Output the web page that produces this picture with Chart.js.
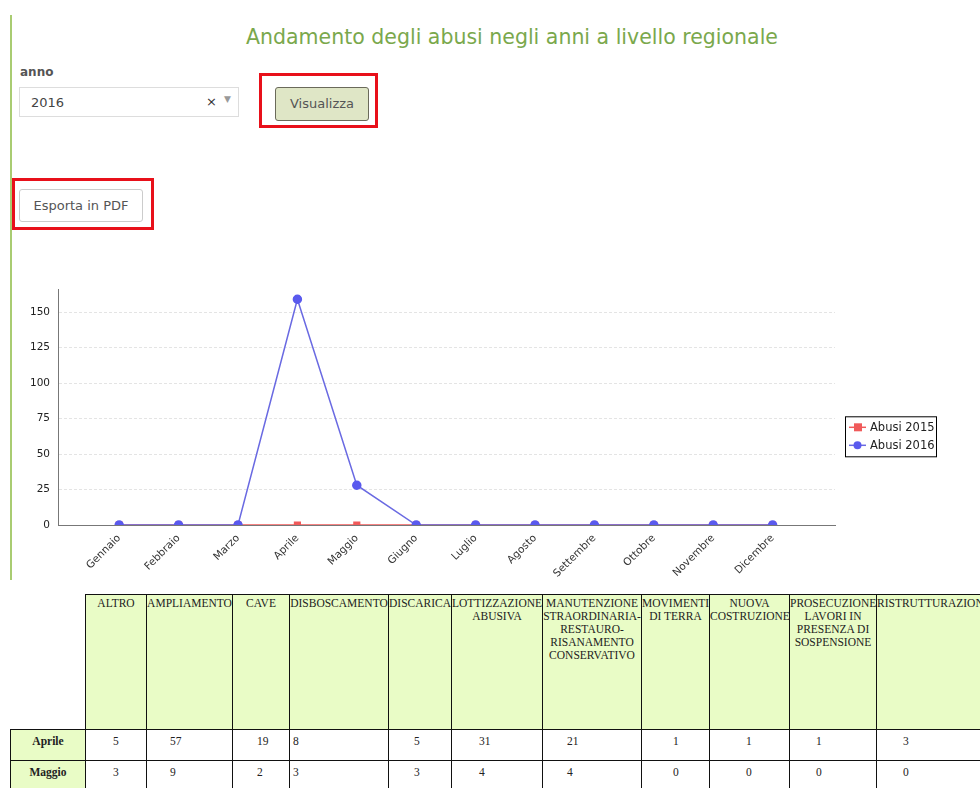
<!DOCTYPE html>
<html>
<head>
<meta charset="utf-8">
<script src="https://cdn.jsdelivr.net/npm/chart.js@4.4.1/dist/chart.umd.min.js"></script>
<style>
  html, body { margin:0; padding:0; background:#fff; width:980px; height:788px; overflow:hidden; }
  body { position:relative; font-family:"DejaVu Sans", Verdana, sans-serif; }
  .greenLine { position:absolute; left:10px; top:15px; width:2px; height:565px; background:#a9cc72; }
  .title { position:absolute; left:0; width:1024px; top:25px; text-align:center; font-size:20.5px; color:#7aa84c; }
  .lbl { position:absolute; left:20px; top:65px; font-size:12px; font-weight:bold; color:#555; }
  .select { position:absolute; left:19px; top:87px; width:220px; height:30px; border:1px solid #ddd; box-sizing:border-box; font-size:13px; color:#444; }
  .select .v { position:absolute; left:11px; top:7px; }
  .select .x { position:absolute; left:186px; top:6px; font-size:13px; color:#333; }
  .select .a { position:absolute; left:204px; top:6px; font-size:9px; color:#999; }
  .btn { position:absolute; box-sizing:border-box; font-size:13px; color:#555; text-align:center; border-radius:3px; }
  .vis { left:275px; top:87px; width:94px; height:34px; line-height:32px; background:#dfe6c6; border:1px solid #6a6a5a; }
  .pdf { left:19px; top:189px; width:124px; height:33px; line-height:31px; background:#fff; border:1px solid #ccc; }
  .red { position:absolute; border:3px solid #e8101a; box-sizing:border-box; }
  #wrap { position:absolute; left:0; top:275px; width:980px; height:305px; }
  table { position:absolute; left:10px; top:594px; width:976px; border-collapse:collapse; table-layout:fixed;
          font-family:"Liberation Serif", "Times New Roman", serif; font-size:11.5px; color:#222; }
  th, td { border:1px solid #111; padding:0; }
  thead th { background:#e9fcc6; height:132px; vertical-align:top; font-weight:normal; text-align:center; line-height:13px; padding-top:2px; white-space:normal; }
  thead th.corner { background:#fff; border:0; }
  tbody th { background:#e9fcc6; font-weight:bold; height:25px; vertical-align:top; padding-top:5px; }
  tbody td { background:#fff; vertical-align:top; padding-top:5px; height:25px; text-align:left; }
</style>
</head>
<body>
<div class="greenLine"></div>
<div class="title">Andamento degli abusi negli anni a livello regionale</div>
<div class="lbl">anno</div>
<div class="select"><span class="v">2016</span><span class="x">×</span><span class="a">▼</span></div>
<div class="red" style="left:259px;top:73px;width:119px;height:55px;"></div>
<div class="btn vis">Visualizza</div>
<div class="red" style="left:12px;top:178px;width:142px;height:52px;"></div>
<div class="btn pdf">Esporta in PDF</div>

<div id="wrap"><canvas id="chart"></canvas></div>

<table id="tab"></table>

<script>
// ----- dati -----
const mesi = ["Gennaio","Febbraio","Marzo","Aprile","Maggio","Giugno","Luglio","Agosto","Settembre","Ottobre","Novembre","Dicembre"];
const abusi2015 = [0,0,0,0,0,0,0,0,0,0,0,0];
const abusi2016 = [0,0,0,159,28,0,0,0,0,0,0,0];
const yTicks = [0,25,50,75,100,125,150];

const tipologie = ["ALTRO","AMPLIAMENTO","CAVE","DISBOSCAMENTO","DISCARICA","LOTTIZZAZIONE ABUSIVA",
  "MANUTENZIONE STRAORDINARIA- RESTAURO- RISANAMENTO CONSERVATIVO","MOVIMENTI DI TERRA","NUOVA COSTRUZIONE",
  "PROSECUZIONE LAVORI IN PRESENZA DI SOSPENSIONE","RISTRUTTURAZIONE"];
const righe = ["Aprile","Maggio"];
const valoriAprile = [5,57,19,8,5,31,21,1,1,1,3];
const valoriMaggio = [3,9,2,3,3,4,4,0,0,0,0];

const RED = "#f05a5a", BLUE = "#5a5aee";

// legenda disegnata a mano (riquadro con linea + simbolo)
const boxLegend = {
  id:"boxLegend",
  afterDraw(c){
    const ctx = c.ctx, a = c.chartArea;
    const x = a.right + 10, y = a.top + 127, w = 91, h = 40;
    ctx.save();
    ctx.fillStyle = "#fff";
    ctx.fillRect(x, y, w, h);
    ctx.strokeStyle = "#000"; ctx.lineWidth = 1;
    ctx.strokeRect(x + 0.5, y + 0.5, w, h);
    ctx.font = "11.5px 'DejaVu Sans'";
    ctx.textBaseline = "middle";
    c.data.datasets.forEach((ds, i) => {
      const yy = y + 11 + i * 18;
      ctx.strokeStyle = ds.borderColor; ctx.lineWidth = 1.5;
      ctx.beginPath(); ctx.moveTo(x + 4, yy); ctx.lineTo(x + 21, yy); ctx.stroke();
      ctx.fillStyle = ds.pointBackgroundColor;
      if (ds.pointStyle === "rect") ctx.fillRect(x + 9, yy - 4, 8, 8);
      else { ctx.beginPath(); ctx.arc(x + 12.5, yy, 4, 0, Math.PI * 2); ctx.fill(); }
      ctx.fillStyle = "#222";
      ctx.fillText(ds.label, x + 25, yy + 1);
    });
    ctx.restore();
  }
};

const chart = new Chart(document.getElementById("chart"), {
  type:"line",
  data:{
    datasets:[
      { label:"Abusi 2015", data:abusi2015.map((v,i)=>({x:i,y:v})), borderColor:RED, backgroundColor:RED,
        pointBackgroundColor:RED, pointBorderColor:RED, pointStyle:"rect", pointRadius:4, borderWidth:1.5, order:2,
        clip:{left:10,top:10,right:10,bottom:0} },
      { label:"Abusi 2016", data:abusi2016.map((v,i)=>({x:i,y:v})), borderColor:"#6a6ae2", backgroundColor:BLUE,
        pointBackgroundColor:BLUE, pointBorderColor:BLUE, pointStyle:"circle", pointRadius:4, borderWidth:1.5, order:1,
        clip:{left:10,top:10,right:10,bottom:0} }
    ]
  },
  options:{
    responsive:true, maintainAspectRatio:false, animation:false,
    layout:{ padding:{ left:0, top:10, right:145, bottom:0 } },
    plugins:{ legend:{ display:false }, tooltip:{ enabled:false } },
    scales:{
      x:{
        type:"linear", min:-1.03, max:12.05,
        afterBuildTicks: s => { s.ticks = mesi.map((m,i)=>({value:i})); },
        afterFit: s => { s.height = 55; },
        grid:{ drawOnChartArea:false, drawTicks:false },
        border:{ color:"#777", width:1 },
        ticks:{ autoSkip:false, maxRotation:45, minRotation:45, padding:7, color:"#333",
                font:{ family:"DejaVu Sans", size:10.5 }, callback: v => mesi[v] }
      },
      y:{
        min:0, max:166,
        afterBuildTicks: s => { s.ticks = yTicks.map(v=>({value:v})); },
        afterFit: s => { s.width = 58; },
        grid:{ color:"#e4e4e4", drawTicks:false },
        border:{ color:"#777", width:1, dash:[3,2] },
        ticks:{ padding:8, color:"#222", font:{ family:"DejaVu Sans", size:10.5 } }
      }
    }
  },
  plugins:[boxLegend]
});

// ----- tabella -----
const padSinistra = [27,23,24,3,25,27,24,31,36,26,26];
const larghezze = [75,61,86,57,99,63,91,99,68,80,87,110];
const tab = document.getElementById("tab");
let html = "<colgroup>" + larghezze.map(w=>'<col style="width:'+w+'px">').join("") + "</colgroup>";
html += '<thead><tr><th class="corner"></th>' + tipologie.map(t=>"<th>"+t+"</th>").join("") + "</tr></thead><tbody>";
[valoriAprile, valoriMaggio].forEach((vals, r) => {
  html += "<tr><th>" + righe[r] + "</th>" + vals.map((v,i)=>'<td style="padding-left:'+padSinistra[i]+'px">'+v+"</td>").join("") + "</tr>";
});
html += "</tbody>";
tab.innerHTML = html;
</script>
</body>
</html>
